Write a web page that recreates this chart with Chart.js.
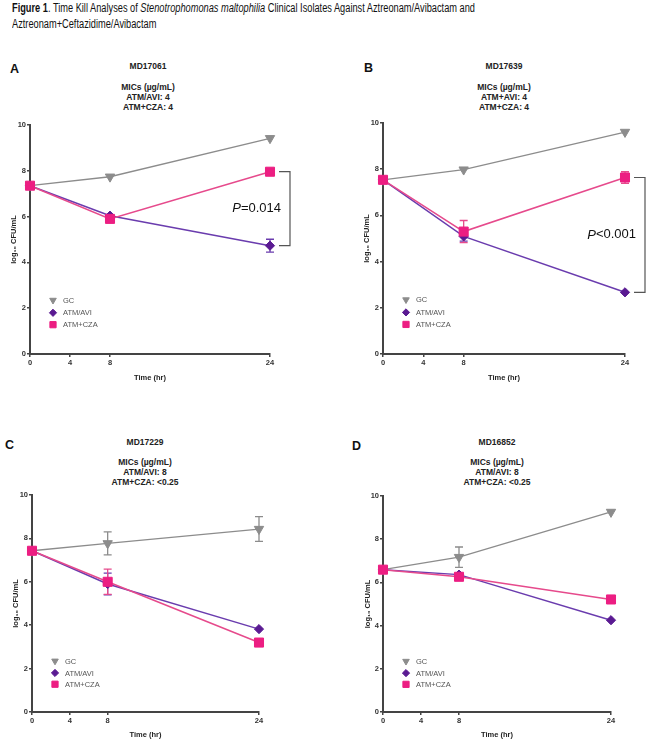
<!DOCTYPE html>
<html><head><meta charset="utf-8">
<script src="https://cdn.jsdelivr.net/npm/chart.js@4"></script>
<style>
body{margin:0;background:#fff;width:650px;height:745px;position:relative;overflow:hidden;font-family:"Liberation Sans",Arial,sans-serif;}
.t{position:absolute;left:12px;white-space:nowrap;color:#111;font-size:12px;line-height:13px;transform-origin:0 0;}
.hd{position:absolute;width:200px;text-align:center;font-weight:bold;font-size:8.5px;line-height:10px;color:#222;}
.lt{position:absolute;font-weight:bold;font-size:12.5px;line-height:14px;color:#111;}
canvas{position:absolute;}
</style></head><body>
<div class="t" id="t1" style="top:2px"><b>Figure 1</b>. Time Kill Analyses of <i>Stenotrophomonas maltophilia</i> Clinical Isolates Against Aztreonam/Avibactam and</div>
<div class="t" id="t2" style="top:18px">Aztreonam+Ceftazidime/Avibactam</div>

<div class="lt" style="left:10px;top:62px">A</div>
<div class="lt" style="left:364px;top:61px">B</div>
<div class="lt" style="left:5px;top:438px">C</div>
<div class="lt" style="left:352px;top:439px">D</div>

<div class="hd" style="left:48px;top:61px">MD17061</div>
<div class="hd" style="left:48px;top:82px">MICs (µg/mL)<br>ATM/AVI: 4<br>ATM+CZA: 4</div>
<div class="hd" style="left:404px;top:61px">MD17639</div>
<div class="hd" style="left:404px;top:82px">MICs (µg/mL)<br>ATM+AVI: 4<br>ATM+CZA: 4</div>
<div class="hd" style="left:45px;top:437px">MD17229</div>
<div class="hd" style="left:45px;top:457px">MICs (µg/mL)<br>ATM/AVI: 8<br>ATM+CZA: &lt;0.25</div>
<div class="hd" style="left:397px;top:437px">MD16852</div>
<div class="hd" style="left:397px;top:457px">MICs (µg/mL)<br>ATM/AVI: 8<br>ATM+CZA: &lt;0.25</div>

<canvas id="cA" width="325" height="271" style="left:0;top:115px"></canvas>
<canvas id="cB" width="325" height="271" style="left:325px;top:115px"></canvas>
<canvas id="cC" width="325" height="258" style="left:0;top:485px"></canvas>
<canvas id="cD" width="325" height="258" style="left:325px;top:485px"></canvas>

<script>
// ---- data ----
const timepoints = [0, 8, 24];
const xTickValues = [0, 4, 8, 24];
const seriesNames = ['GC', 'ATM/AVI', 'ATM+CZA'];

const A_GC  = [7.35, 7.74, 9.42];
const A_AVI = [7.35, 6.04, 4.73];
const A_CZA = [7.35, 5.90, 7.96];
const A_GC_err  = [0, 0, 0];
const A_AVI_err = [0, 0, 0.28];
const A_CZA_err = [0, 0, 0];

const B_GC  = [7.54, 7.98, 9.61];
const B_AVI = [7.54, 5.09, 2.67];
const B_CZA = [7.54, 5.30, 7.64];
const B_GC_err  = [0, 0, 0];
const B_AVI_err = [0, 0.2, 0];
const B_CZA_err = [0, 0.48, 0.25];

const C_GC  = [7.43, 7.77, 8.43];
const C_AVI = [7.43, 5.90, 3.82];
const C_CZA = [7.43, 6.00, 3.20];
const C_GC_err  = [0, 0.53, 0.57];
const C_AVI_err = [0, 0.50, 0];
const C_CZA_err = [0, 0.58, 0];

const D_GC  = [6.59, 7.17, 9.26];
const D_AVI = [6.59, 6.36, 4.25];
const D_CZA = [6.59, 6.26, 5.21];
const D_GC_err  = [0, 0.47, 0];
const D_AVI_err = [0, 0, 0];
const D_CZA_err = [0, 0, 0];

const pLabels = { A: 'P=0.014', B: 'P<0.001' };

// ---- style ----
const FONT = '"Liberation Sans", Arial, sans-serif';
const COL = {
  gc:  { pt: '#8c8c8c', ln: '#8c8c8c' },
  avi: { pt: '#5a1a92', ln: '#6a3cae' },
  cza: { pt: '#ec1e82', ln: '#e64a8c' }
};

function toXY(arr){ return arr.map((v,i)=>({x: timepoints[i], y: v})); }

const errorBarPlugin = {
  id: 'errbars',
  beforeDatasetsDraw(chart){
    const ctx = chart.ctx, xs = chart.scales.x, ys = chart.scales.y;
    chart.data.datasets.forEach(ds=>{
      if(!ds.errs) return;
      ctx.save();
      ctx.strokeStyle = ds.borderColor; ctx.lineWidth = 1.3;
      ds.data.forEach((p,j)=>{
        const e = ds.errs[j]; if(!e) return;
        const x = xs.getPixelForValue(p.x);
        const y1 = ys.getPixelForValue(p.y + e), y2 = ys.getPixelForValue(p.y - e);
        ctx.beginPath();
        ctx.moveTo(x, y1); ctx.lineTo(x, y2);
        ctx.moveTo(x-4, y1); ctx.lineTo(x+4, y1);
        ctx.moveTo(x-4, y2); ctx.lineTo(x+4, y2);
        ctx.stroke();
      });
      ctx.restore();
    });
  }
};

const innerLegendPlugin = {
  id: 'innerLegend',
  afterDatasetsDraw(chart){
    const ctx = chart.ctx, ys = chart.scales.y;
    const rowsY = [2.35, 1.8, 1.28];
    const x0 = chart.chartArea.left + 23;
    chart.data.datasets.forEach((ds,i)=>{
      const y = ys.getPixelForValue(rowsY[i]);
      ctx.save();
      ctx.fillStyle = ds.pointBackgroundColor; ctx.strokeStyle = ds.pointBackgroundColor; ctx.lineWidth = 1;
      Chart.helpers.drawPoint(ctx, {pointStyle: ds.pointStyle, radius: ds.legendRadius, rotation: ds.pointRotation || 0, borderWidth: 1}, x0, y);
      ctx.fillStyle = '#555';
      ctx.font = '7.5px ' + FONT;
      ctx.textBaseline = 'middle';
      ctx.fillText(seriesNames[i], x0 + 10, y + 0.5);
      ctx.restore();
    });
  }
};

const bracketPlugin = {
  id: 'bracket',
  afterDraw(chart){
    const cfg = chart.options.plugins.bracket;
    if(!cfg || !cfg.label) return;
    const ctx = chart.ctx, xs = chart.scales.x, ys = chart.scales.y;
    const ds = chart.data.datasets;
    const last = timepoints.length - 1;
    const yTop = ys.getPixelForValue(ds[2].data[last].y);
    const yBot = ys.getPixelForValue(ds[1].data[last].y);
    const xe = xs.getPixelForValue(timepoints[last]);
    ctx.save();
    ctx.strokeStyle = '#555'; ctx.lineWidth = 1.2;
    ctx.beginPath();
    ctx.moveTo(xe + 9, yTop); ctx.lineTo(xe + 20, yTop); ctx.lineTo(xe + 20, yBot); ctx.lineTo(xe + 9, yBot);
    ctx.stroke();
    const ym = (yTop + yBot) / 2;
    ctx.fillStyle = '#111';
    ctx.textBaseline = 'middle';
    const rest = cfg.label.slice(1);
    ctx.font = '13px ' + FONT;
    const wRest = ctx.measureText(rest).width;
    ctx.font = 'italic 13px ' + FONT;
    const wP = ctx.measureText('P').width;
    const xr = xe + 11;
    ctx.fillText('P', xr - wRest - wP, ym);
    ctx.font = '13px ' + FONT;
    ctx.fillText(rest, xr - wRest, ym);
    ctx.restore();
  }
};

function makeChart(id, gc, avi, cza, gcE, aviE, czaE, geo, label){
  const tickFont = {family: FONT, size: 7.5, weight: 'bold'};
  const titleFont = {family: FONT, size: 7.5, weight: 'bold', lineHeight: 1.2};
  return new Chart(document.getElementById(id), {
    type: 'line',
    data: { datasets: [
      {label: seriesNames[0], data: toXY(gc), errs: gcE, order: 2, clip: false, borderColor: COL.gc.ln, pointBackgroundColor: COL.gc.pt, pointBorderColor: COL.gc.pt,
       pointStyle: 'triangle', pointRotation: 180, pointRadius: 5.4, legendRadius: 3.8, borderWidth: 1.3, pointBorderWidth: 1},
      {label: seriesNames[1], data: toXY(avi), errs: aviE, order: 1, clip: false, borderColor: COL.avi.ln, pointBackgroundColor: COL.avi.pt, pointBorderColor: COL.avi.pt,
       pointStyle: 'rectRot', pointRadius: 4.6, legendRadius: 3.6, borderWidth: 1.5, pointBorderWidth: 1},
      {label: seriesNames[2], data: toXY(cza), errs: czaE, order: 0, clip: false, borderColor: COL.cza.ln, pointBackgroundColor: COL.cza.pt, pointBorderColor: COL.cza.pt,
       pointStyle: 'rect', pointRadius: 6.4, legendRadius: 4.4, borderWidth: 1.5, pointBorderWidth: 1}
    ]},
    options: {
      responsive: false, animation: false, events: [],
      layout: {padding: {left: geo.pl, right: geo.pr, top: geo.pt, bottom: 0}},
      plugins: {legend: {display: false}, tooltip: {enabled: false}, bracket: {label: label}},
      scales: {
        x: {type: 'linear', min: 0, max: 24,
            afterBuildTicks: s => { s.ticks = xTickValues.map(v => ({value: v})); },
            afterFit: s => { s.height = geo.xh; },
            ticks: {autoSkip: false, maxRotation: 0, font: tickFont, color: '#333', padding: 1},
            grid: {drawOnChartArea: false, drawTicks: true, tickLength: 3, color: '#444', lineWidth: 1.5},
            border: {display: true, color: '#444', width: 2},
            title: {display: true, text: 'Time (hr)', font: titleFont, color: '#222', padding: {top: 0, bottom: 4}}},
        y: {min: 0, max: 10,
            afterFit: s => { s.width = geo.yw; },
            ticks: {stepSize: 2, font: tickFont, color: '#333', padding: 1},
            grid: {drawOnChartArea: false, drawTicks: true, tickLength: 3, color: '#444', lineWidth: 1.5},
            border: {display: true, color: '#444', width: 2},
            title: {display: true, text: 'log\u2081\u2080 CFU/mL', font: titleFont, color: '#222', padding: {top: 4, bottom: 0}}}
      }
    },
    plugins: [errorBarPlugin, innerLegendPlugin, bracketPlugin]
  });
}

makeChart('cA', A_GC, A_AVI, A_CZA, A_GC_err, A_AVI_err, A_CZA_err, {pl: 5, yw: 25, pr: 55, pt: 10, xh: 32}, pLabels.A);
makeChart('cB', B_GC, B_AVI, B_CZA, B_GC_err, B_AVI_err, B_CZA_err, {pl: 33, yw: 25, pr: 25, pt: 8, xh: 32}, pLabels.B);
makeChart('cC', C_GC, C_AVI, C_CZA, C_GC_err, C_AVI_err, C_CZA_err, {pl: 7, yw: 25, pr: 66, pt: 10, xh: 31}, null);
makeChart('cD', D_GC, D_AVI, D_CZA, D_GC_err, D_AVI_err, D_CZA_err, {pl: 34, yw: 24, pr: 39, pt: 11, xh: 31}, null);

// condense title lines to the reference width
const t1 = document.getElementById('t1'), t2 = document.getElementById('t2');
const k = 463 / t1.getBoundingClientRect().width;
t1.style.transform = 'scaleX(' + k + ')';
t2.style.transform = 'scaleX(' + k + ')';
</script>
</body></html>
